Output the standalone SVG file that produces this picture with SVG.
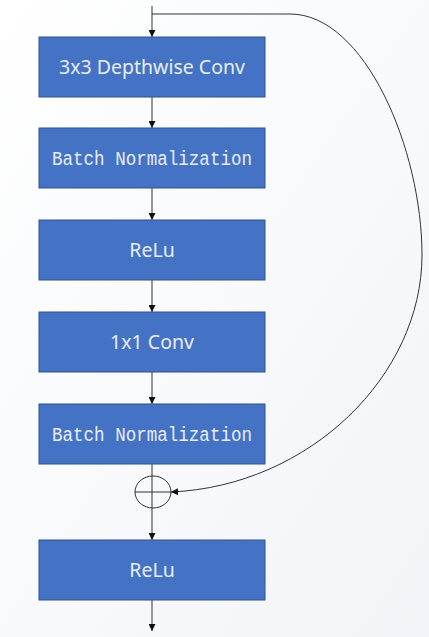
<svg xmlns="http://www.w3.org/2000/svg" width="429" height="637" viewBox="0 0 429 637">
  <defs>
    <linearGradient id="bg" x1="0" y1="0" x2="1" y2="1">
      <stop offset="0" stop-color="#ffffff"/>
      <stop offset="1" stop-color="#f1f4f8"/>
    </linearGradient>
    <marker id="arrow" viewBox="0 0 10 10" refX="10" refY="5" markerWidth="7" markerHeight="7" markerUnits="userSpaceOnUse" orient="auto">
      <path d="M0,0 L10,5 L0,10 z" fill="#111"/>
    </marker>
    <style>
      .box { fill: #4472c4; stroke: #2f528f; stroke-width: 1; }
      .sans { font-family: "Noto Sans", "Open Sans", "Liberation Sans", sans-serif; font-size: 19.5px; fill: #e9eef8; text-anchor: middle; }
      .mono { font-family: "Liberation Mono", "DejaVu Sans Mono", monospace; font-size: 20px; fill: #e9eef8; text-anchor: middle; }
      .link { fill: none; stroke: #333; stroke-width: 1; }
    </style>
  </defs>

  <rect x="0" y="0" width="429" height="637" fill="url(#bg)"/>

  <g id="edges">
    <line class="link" x1="152" y1="6" x2="152" y2="37" marker-end="url(#arrow)"/>
    <line class="link" x1="152" y1="97" x2="152" y2="128" marker-end="url(#arrow)"/>
    <line class="link" x1="152" y1="188" x2="152" y2="220" marker-end="url(#arrow)"/>
    <line class="link" x1="152" y1="280" x2="152" y2="312" marker-end="url(#arrow)"/>
    <line class="link" x1="152" y1="372" x2="152" y2="404" marker-end="url(#arrow)"/>
    <line class="link" x1="152" y1="464" x2="152" y2="540" marker-end="url(#arrow)"/>
    <line class="link" x1="152" y1="600" x2="152" y2="631" marker-end="url(#arrow)"/>
    <!-- residual shortcut -->
    <path class="link" d="M152,14 L290,14 C365,14 422,150 422,255 C422,375 310,486 171,492" marker-end="url(#arrow)"/>
  </g>

  <g id="dwconv">
    <rect class="box" x="39" y="37" width="226" height="60"/>
    <text class="sans" x="152" y="74">3x3 Depthwise Conv</text>
  </g>
  <g id="bn1">
    <rect class="box" x="39" y="128" width="226" height="60"/>
    <text class="mono" x="152" y="165" textLength="200" lengthAdjust="spacingAndGlyphs">Batch Normalization</text>
  </g>
  <g id="relu1">
    <rect class="box" x="39" y="220" width="226" height="60"/>
    <text class="sans" x="152" y="257">ReLu</text>
  </g>
  <g id="pwconv">
    <rect class="box" x="39" y="312" width="226" height="60"/>
    <text class="sans" x="152" y="349">1x1 Conv</text>
  </g>
  <g id="bn2">
    <rect class="box" x="39" y="404" width="226" height="60"/>
    <text class="mono" x="152" y="441" textLength="200" lengthAdjust="spacingAndGlyphs">Batch Normalization</text>
  </g>
  <g id="add">
    <ellipse cx="153" cy="492" rx="18" ry="16" fill="none" stroke="#333" stroke-width="1"/>
    <line x1="135" y1="492" x2="171" y2="492" stroke="#333" stroke-width="1"/>
  </g>
  <g id="relu2">
    <rect class="box" x="39" y="540" width="226" height="60"/>
    <text class="sans" x="152" y="577">ReLu</text>
  </g>
</svg>
